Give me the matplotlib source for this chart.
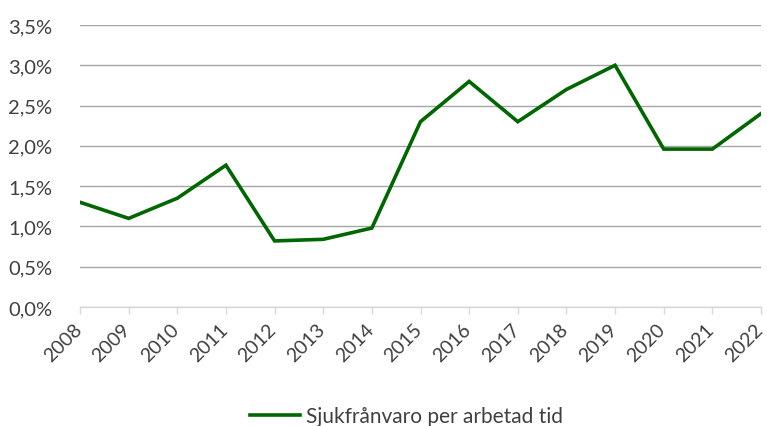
import numpy as np
import matplotlib.pyplot as plt
import matplotlib.transforms as mtransforms
from matplotlib.ticker import FuncFormatter

years = ['2008', '2009', '2010', '2011', '2012', '2013', '2014', '2015',
         '2016', '2017', '2018', '2019', '2020', '2021', '2022']
sjukfranvaro = [1.30, 1.10, 1.35, 1.76, 0.82, 0.84, 0.98, 2.30,
                2.80, 2.30, 2.70, 3.00, 1.96, 1.96, 2.40]

plt.rcParams['font.family'] = ['Lato', 'DejaVu Sans']

fig = plt.figure(figsize=(7.67, 4.27), dpi=100)
ax = fig.add_axes([80 / 767, 1 - 308 / 427, 681 / 767, 282 / 427])

x = np.arange(len(years))
ax.plot(x, sjukfranvaro, color='#006600', linewidth=2.6,
        label='Sjukfrånvaro per arbetad tid', solid_joinstyle='miter')

ax.set_xlim(0, len(years) - 1)
ax.set_ylim(0, 3.5)
ax.set_yticks(np.arange(0, 3.51, 0.5))
ax.yaxis.set_major_formatter(FuncFormatter(lambda v, p: f'{v:.1f}%'.replace('.', ',')))
ax.set_xticks(x)

ax.grid(axis='y', color='#a6a6a6', linewidth=1)
ax.set_axisbelow(True)
for s in ['top', 'right', 'left']:
    ax.spines[s].set_visible(False)
ax.spines['bottom'].set_color('#d9d9d9')
ax.spines['bottom'].set_linewidth(1)
ax.tick_params(axis='y', length=0, pad=20, labelsize=14.5, labelcolor='#404040')
ax.tick_params(axis='x', length=5, color='#d9d9d9', width=1, labelsize=14,
               labelcolor='#404040', pad=3)

# labels after tick_params, otherwise the offset gets reset
ax.set_xticklabels(years, rotation=45, ha='right', va='top', rotation_mode='anchor')
shift = mtransforms.ScaledTranslation(-7 / 100, -2 / 100, fig.dpi_scale_trans)
for lab in ax.get_xticklabels():
    lab.set_transform(lab.get_transform() + shift)

fig.legend(loc='lower center', bbox_to_anchor=(0.53, -0.045), frameon=False,
           fontsize=15, handlelength=2.4, labelcolor='#404040', handletextpad=0.25)

fig.savefig('out.png', dpi=100)
